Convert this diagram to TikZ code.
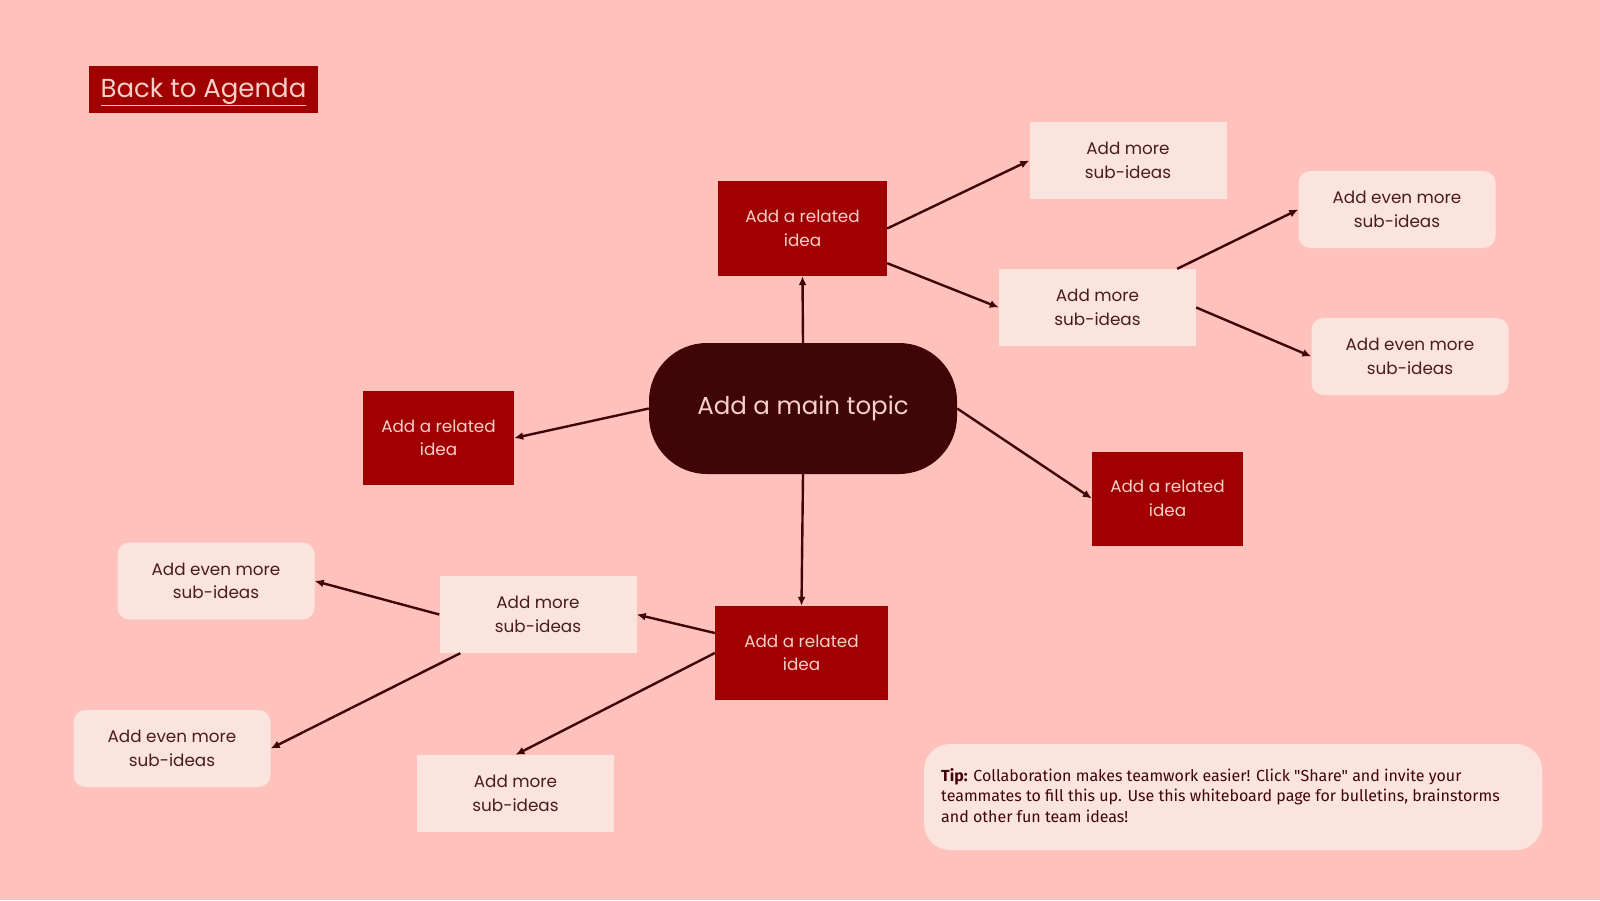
\documentclass[tikz,border=0pt]{standalone}
\usepackage{fontspec}
\setmainfont{Poppins}
\newfontfamily\tipfont{Fira Sans}
\usetikzlibrary{arrows.meta, positioning}
\definecolor{PageBg}{HTML}{FFC1BC}
\definecolor{IdeaRed}{HTML}{A00000}
\definecolor{TopicDark}{HTML}{400506}
\definecolor{SubLight}{HTML}{FBE4DE}
\definecolor{IdeaText}{HTML}{F8D0CA}
\definecolor{SubText}{HTML}{4A1C1C}
\newcommand{\boxfont}{\fontsize{16.8}{23.5}\selectfont}

\begin{document}
\begin{tikzpicture}[x=1pt, y=-1pt,
        related/.style={rectangle, fill=IdeaRed, text=IdeaText, align=center, font=\boxfont,
            minimum width=151pt, minimum height=94pt, inner sep=0pt},
        subidea/.style={rectangle, fill=SubLight, text=SubText, align=center, font=\boxfont,
            minimum width=197pt, minimum height=77pt, inner sep=0pt},
        evenmore/.style={subidea, rounded corners=12pt},
        maintopic/.style={rectangle, rounded corners=58pt, fill=TopicDark, text=IdeaText,
            font=\fontsize{24.5}{30}\selectfont, minimum width=308pt, minimum height=131pt, inner sep=0pt},
        link/.style={draw=TopicDark, line width=2.4pt, -{Latex[length=9pt, width=8pt]}}
    ]

    % Background
    \fill[PageBg] (0,0) rectangle (1600,900);
    \useasboundingbox (0,0) rectangle (1600,900);

    % Back link
    \node[rectangle, fill=IdeaRed, minimum width=229pt, minimum height=47pt, inner sep=0pt] (back) at (203.5,89.5) {};
    \node[text=IdeaText, inner sep=0pt, font=\fontsize{26}{30}\selectfont] (backtext) at (203.5,92)
        {\underline{Back to Agenda}};

    % Main topic
    \node[maintopic] (main) at (803,408.5) {Add a main topic};

    % Related ideas
    \node[related, minimum width=169pt, minimum height=95pt] (rtop) at (802.5,228.5) {Add a related\\idea};
    \node[related] (rleft) at (438.5,438) {Add a related\\idea};
    \node[related] (rright) at (1167.5,498.5) {Add a related\\idea};
    \node[related, minimum width=173pt] (rbot) at (801.5,653) {Add a related\\idea};

    % Sub-ideas
    \node[subidea] (stop) at (1128,160.5) {Add more\\sub-ideas};
    \node[subidea] (smid) at (1097.5,307.5) {Add more\\sub-ideas};
    \node[subidea] (sleft) at (538,614.5) {Add more\\sub-ideas};
    \node[subidea] (sbot) at (515.5,793.5) {Add more\\sub-ideas};

    % Even more sub-ideas
    \node[evenmore] (eup) at (1397,209.5) {Add even more\\sub-ideas};
    \node[evenmore] (elow) at (1410,356.5) {Add even more\\sub-ideas};
    \node[evenmore] (eleft) at (216,581) {Add even more\\sub-ideas};
    \node[evenmore] (eleftlow) at (172,748.5) {Add even more\\sub-ideas};

    % Connectors
    \draw[link] (main.north) -- (rtop.south);
    \draw[link] (main.west) -- (rleft.east);
    \draw[link] (main.east) -- (rright.west);
    \draw[link] (main.south) -- (rbot.north);
    \draw[link] (rtop.east) -- (stop.west);
    \draw[link] ([yshift=13pt]rtop.south east) -- (smid.west);
    \draw[link] ([xshift=-19pt]smid.north east) -- (eup.west);
    \draw[link] (smid.east) -- (elow.west);
    \draw[link] ([yshift=20pt]rbot.west) -- (sleft.east);
    \draw[link] (rbot.west) -- (sbot.north);
    \draw[link] (sleft.west) -- (eleft.east);
    \draw[link] ([xshift=21pt]sleft.south west) -- (eleftlow.east);

    % Tip
    \node[rectangle, rounded corners=26pt, fill=SubLight, minimum width=618pt, minimum height=106pt,
        inner sep=0pt] (tip) at (1233,797) {};
    \node[anchor=west, text=TopicDark, align=left, inner sep=0pt,
        font=\tipfont\fontsize{16}{20.5}\selectfont] (tiptext) at (941,795.5)
        {\textbf{Tip:} Collaboration makes teamwork easier! Click "Share" and invite your\\
         teammates to fill this up. Use this whiteboard page for bulletins, brainstorms\\
         and other fun team ideas!};

\end{tikzpicture}
\end{document}
